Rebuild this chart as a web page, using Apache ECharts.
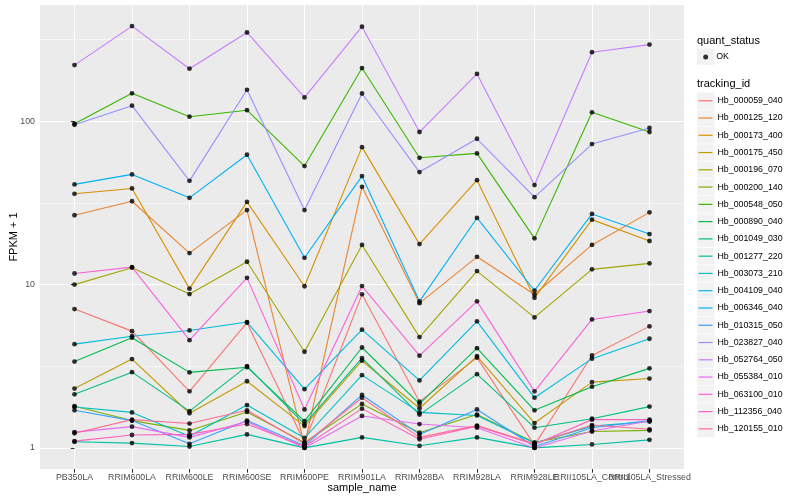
<!DOCTYPE html>
<html><head><meta charset="utf-8">
<script src="https://cdn.jsdelivr.net/npm/echarts@6/dist/echarts.min.js"></script>
<style>html,body{margin:0;padding:0;background:#fff}#c{width:800px;height:500px}</style>
</head><body><div id="c"></div>
<script>
const categories = ['PB350LA','RRIM600LA','RRIM600LE','RRIM600SE','RRIM600PE','RRIM901LA','RRIM928BA','RRIM928LA','RRIM928LE','RRII105LA_Control','RRII105LA_Stressed'];
const trackingIds = ['Hb_000059_040','Hb_000125_120','Hb_000173_400','Hb_000175_450','Hb_000196_070','Hb_000200_140','Hb_000548_050','Hb_000890_040','Hb_001049_030','Hb_001277_220','Hb_003073_210','Hb_004109_040','Hb_006346_040','Hb_010315_050','Hb_023827_040','Hb_052764_050','Hb_055384_010','Hb_063100_010','Hb_112356_040','Hb_120155_010'];
const quantStatus = ['OK'];
const yTickValues = [1, 10, 100];
const yTickLabels = ['1', '10', '100'];

const Hb_000059_040 = [7.08, 5.19, 2.22, 5.85, 1.08, 8.72, 1.92, 3.57, 1.04, 3.68, 5.55];
const Hb_000125_120 = [26.6, 32.4, 15.6, 28.6, 1.04, 39.7, 7.7, 14.8, 8.7, 17.5, 27.7];
const Hb_000173_400 = [36.0, 38.8, 9.45, 32.1, 9.77, 69.5, 17.7, 43.6, 8.3, 25.0, 18.5];
const Hb_000175_450 = [2.31, 3.50, 1.63, 2.56, 1.36, 3.42, 1.75, 3.65, 1.42, 2.53, 2.66];
const Hb_000196_070 = [10.0, 12.7, 8.75, 13.8, 3.88, 17.5, 4.77, 12.1, 6.3, 12.4, 13.5];
const Hb_000200_140 = [1.80, 1.47, 1.28, 1.66, 1.08, 1.86, 1.24, 1.60, 1.08, 1.26, 1.28];
const Hb_000548_050 = [96.7, 148.5, 106.7, 117, 53.2, 212, 59.8, 63.6, 19.2, 113.5, 86];
const Hb_000890_040 = [3.38, 4.73, 2.90, 3.12, 1.46, 4.12, 1.86, 4.08, 1.70, 2.37, 3.07];
const Hb_001049_030 = [2.13, 2.91, 1.68, 3.17, 1.40, 3.55, 1.60, 2.83, 1.33, 1.51, 1.79];
const Hb_001277_220 = [1.09, 1.07, 1.02, 1.21, 1.00, 1.16, 1.03, 1.16, 1.00, 1.05, 1.12];
const Hb_003073_210 = [1.78, 1.65, 1.18, 1.83, 1.15, 2.79, 1.65, 1.58, 1.07, 1.36, 1.45];
const Hb_004109_040 = [4.32, 4.83, 5.24, 5.9, 2.29, 5.3, 2.59, 5.96, 2.03, 3.52, 4.66];
const Hb_006346_040 = [41.1, 47.3, 34.0, 62.4, 14.6, 46.2, 7.9, 25.6, 9.2, 27.1, 20.4];
const Hb_010315_050 = [1.70, 1.47, 1.06, 1.47, 1.03, 2.11, 1.21, 1.72, 1.02, 1.33, 1.47];
const Hb_023827_040 = [95.3, 124.7, 43.2, 156, 28.6, 148, 48.9, 78.2, 34.3, 72.6, 91];
const Hb_052764_050 = [221, 383, 210, 350, 140, 380, 86, 195, 40.7, 265, 295];
const Hb_055384_010 = [1.25, 1.35, 1.16, 1.45, 1.00, 1.57, 1.40, 1.33, 1.00, 1.27, 1.46];
const Hb_063100_010 = [11.7, 12.8, 4.57, 11.0, 1.72, 9.8, 3.67, 7.9, 2.22, 6.12, 6.89];
const Hb_112356_040 = [1.10, 1.20, 1.21, 1.40, 1.02, 1.74, 1.13, 1.36, 1.05, 1.49, 1.49];
const Hb_120155_010 = [1.23, 1.49, 1.41, 1.70, 1.06, 2.03, 1.16, 1.37, 1.06, 1.38, 1.30];

const seriesValues = [Hb_000059_040, Hb_000125_120, Hb_000173_400, Hb_000175_450, Hb_000196_070, Hb_000200_140, Hb_000548_050, Hb_000890_040, Hb_001049_030, Hb_001277_220, Hb_003073_210, Hb_004109_040, Hb_006346_040, Hb_010315_050, Hb_023827_040, Hb_052764_050, Hb_055384_010, Hb_063100_010, Hb_112356_040, Hb_120155_010];

const colors = ['#F8766D','#EA8331','#D89000','#C09B00','#A3A500','#7CAE00','#39B600','#00BB4E','#00BF7D','#00C1A3','#00BFC4','#00BAE0','#00B0F6','#35A2FF','#9590FF','#C77CFF','#E76BF3','#FA62DB','#FF62BC','#FF6C91'];

const FONT = '"Liberation Sans", Arial, Helvetica, sans-serif';
const xIdx = categories.map((c, i) => i);
// the 10th label goes on a twin axis so ECharts' min/max-label overlap rule does not hide it
const xIdxMain = xIdx.filter(i => i !== 9);
const xIdxTwin = [9];

const allVals = [].concat(...seriesValues);
const lo = Math.log10(Math.min(...allVals)), hi = Math.log10(Math.max(...allVals));
const pad = (hi - lo) * 0.05;
const yMin = Math.pow(10, lo - pad), yMax = Math.pow(10, hi + pad);
const yMinor = yTickValues.map(v => v * Math.sqrt(10));

const lineSeries = trackingIds.map((id, k) => ({
  name: id, type: 'line', xAxisIndex: 0, yAxisIndex: 0,
  data: seriesValues[k].map((v, i) => [i, v]),
  showSymbol: false, symbol: 'none',
  color: colors[k],
  lineStyle: { width: 1.1, color: colors[k] },
  itemStyle: { color: colors[k] },
  silent: true, z: 2
}));
const pointSeries = {
  name: 'OK', type: 'scatter', xAxisIndex: 0, yAxisIndex: 0,
  data: [].concat(...seriesValues.map(arr => arr.map((v, i) => [i, v]))),
  symbol: 'circle', symbolSize: 4.8,
  itemStyle: { color: '#000' }, silent: true, z: 3
};

const KEY_X = 697, KEY_W = 17.3, KEY_STEP = 17.27, TRACK_TOP = 92.1, QS_TOP = 48.4;
const graphics = [];
graphics.push({ type: 'rect', z: 0, shape: { x: KEY_X, y: QS_TOP, width: KEY_W, height: KEY_STEP - 0.8 }, style: { fill: '#F2F2F2' } });
trackingIds.forEach((id, i) => {
  graphics.push({ type: 'rect', z: 0, shape: { x: KEY_X, y: TRACK_TOP + i * KEY_STEP + 0.4, width: KEY_W, height: KEY_STEP - 0.8 }, style: { fill: '#F2F2F2' } });
});
graphics.push({ type: 'text', z: 5, style: { x: KEY_X, y: 40.7, text: 'quant_status', fontSize: 11, fontFamily: FONT, fill: '#000', verticalAlign: 'middle' } });
graphics.push({ type: 'text', z: 5, style: { x: KEY_X, y: 83.8, text: 'tracking_id', fontSize: 11, fontFamily: FONT, fill: '#000', verticalAlign: 'middle' } });

const labelStyle = { formatter: v => categories[Math.round(v)], color: '#4D4D4D', fontSize: 8.8, fontFamily: FONT, margin: 4.5, hideOverlap: false, showMinLabel: true, showMaxLabel: true };

const option = {
  animation: false,
  backgroundColor: '#fff',
  grid: { left: 40, top: 5, width: 644, height: 464, show: true, backgroundColor: '#EBEBEB', borderWidth: 0, containLabel: false, outerBoundsMode: 'none' },
  xAxis: [{
    type: 'value', min: -0.6, max: 10.6, position: 'bottom',
    axisLine: { show: false },
    axisTick: { show: true, length: 3.7, customValues: xIdx, lineStyle: { color: '#333333', width: 1.07 } },
    axisLabel: Object.assign({ customValues: xIdxMain }, labelStyle),
    splitLine: { show: true, lineStyle: { color: '#FFFFFF', width: 1.07 } },
    name: 'sample_name', nameLocation: 'middle', nameGap: 13.5, nameMoveOverlap: false,
    nameTextStyle: { color: '#000', fontSize: 11, fontFamily: FONT }
  }, {
    type: 'value', min: -0.6, max: 10.6, position: 'bottom', offset: 0,
    axisLine: { show: false },
    axisTick: { show: false, customValues: xIdxTwin },
    axisLabel: Object.assign({ customValues: xIdxTwin }, labelStyle),
    splitLine: { show: false }
  }],
  yAxis: [{
    type: 'log', logBase: 10, min: yMin, max: yMax,
    axisLine: { show: false },
    axisTick: { show: true, length: 3.7, customValues: yTickValues, lineStyle: { color: '#333333', width: 1.07 } },
    axisLabel: { customValues: yTickValues, formatter: v => yTickLabels[yTickValues.indexOf(Math.round(v))] || '', color: '#4D4D4D', fontSize: 8.8, fontFamily: FONT, margin: 5, hideOverlap: false },
    splitLine: { show: true, lineStyle: { color: '#FFFFFF', width: 1.07 } },
    name: 'FPKM + 1', nameLocation: 'middle', nameGap: 21, nameMoveOverlap: false,
    nameTextStyle: { color: '#000', fontSize: 11, fontFamily: FONT }
  }, {
    type: 'log', logBase: 10, min: yMin, max: yMax, position: 'left',
    axisLine: { show: false },
    axisTick: { show: false, customValues: yMinor },
    axisLabel: { show: false },
    splitLine: { show: true, lineStyle: { color: '#FFFFFF', width: 0.55 } }
  }],
  legend: [{
    data: quantStatus, orient: 'vertical', left: 703.2, top: 52, padding: 0,
    icon: 'circle', itemWidth: 5, itemHeight: 5, selectedMode: false,
    textStyle: { fontSize: 8.8, fontFamily: FONT, color: '#000', lineHeight: 10, padding: [0, 0, 0, 3] }
  }, {
    data: trackingIds, orient: 'vertical', left: 698.5, top: TRACK_TOP, padding: 0,
    icon: 'rect', itemWidth: 14, itemHeight: 1.2, itemGap: 0, selectedMode: false,
    textStyle: { fontSize: 8.8, fontFamily: FONT, color: '#000', lineHeight: KEY_STEP }
  }],
  graphic: graphics,
  series: lineSeries.concat([pointSeries])
};

const chart = echarts.init(document.getElementById('c'), null, { renderer: 'canvas' });
chart.setOption(option);
</script></body></html>
